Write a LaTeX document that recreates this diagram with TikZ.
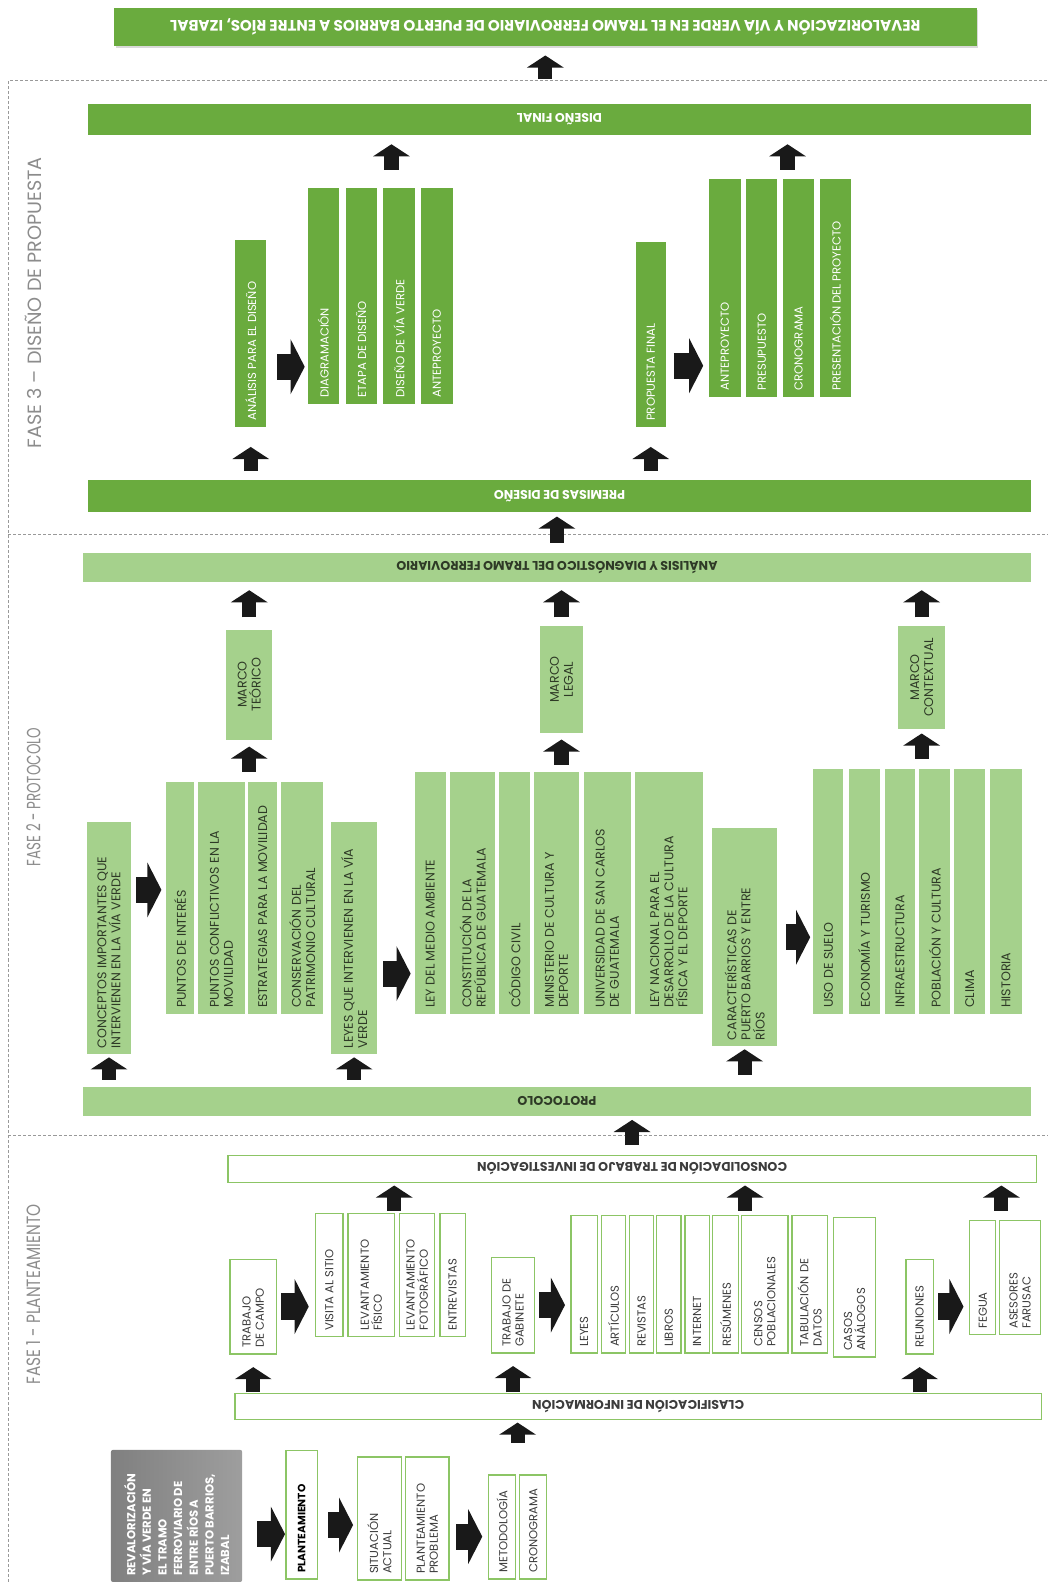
\documentclass[tikz,border=0pt]{standalone}
\usepackage{fontspec}
\usepackage{graphicx}
\setmainfont{Poppins}
\usetikzlibrary{arrows.meta,calc,shadows}
\definecolor{vtres}{HTML}{6AAB3E}
\definecolor{vdos}{HTML}{A5D18C}
\definecolor{vuno}{HTML}{8CC565}
\definecolor{tdos}{HTML}{2E3A26}
\definecolor{tuno}{HTML}{3C3C3C}
\newcommand\vtext[2]{\rotatebox{90}{\parbox{\dimexpr#1pt-12pt\relax}{\raggedright #2}}}
\newcommand\vmid[2]{\rotatebox{90}{\parbox{\dimexpr#1pt-12pt\relax}{\centering #2}}}
\newcommand\flip[1]{\rotatebox[origin=c]{180}{#1}}
\tikzset{
  caja/.style={inner sep=0pt, outer sep=0pt},
  f3/.style={caja, fill=vtres, text=white, font=\fontsize{11.5}{13}\selectfont},
  f2/.style={caja, fill=vdos, text=tdos, font=\fontsize{12.5}{14}\selectfont},
  f1/.style={caja, draw=vuno, line width=1.2pt, fill=white, text=tuno, font=\fontsize{11.5}{13}\selectfont},
  barra/.style={font=\bfseries\fontsize{12.5}{14}\selectfont},
  fase/.style={rotate=90, text=black!45, font=\fontsize{19}{20}\selectfont},
  marco/.style={draw=black!40, dash pattern=on 3pt off 2pt, line width=0.6pt},
  sube/.style={draw=black!90, line width=14pt, -{Triangle[width=36pt,length=12pt]}},
  avanza/.style={draw=black!90, line width=26pt, -{Triangle[width=54pt,length=14pt]}}
}
\begin{document}
\begin{tikzpicture}[x=1pt,y=-1pt]
\useasboundingbox (0,0) rectangle (1039,1568);
\draw[marco] (8,1568) -- (8,80) -- (1039,80);
\draw[marco] (8,530) -- (1039,530);
\draw[marco] (8,1125) -- (1039,1125);
\node[fase] (fase3) at (33,300) {FASE 3 – DISEÑO DE PROPUESTA};
\node[fase] (fase2) at (33,790) {\scalebox{0.7}[1]{FASE 2 - PROTOCOLO}};
\node[fase] (fase1) at (33,1283) {\scalebox{0.8}[1]{FASE 1 - PLANTEAMIENTO}};

% fase 3
\node[f3, barra, font=\bfseries\fontsize{15}{17}\selectfont, minimum width=855, minimum height=38,
  drop shadow={shadow xshift=1.5pt, shadow yshift=-2pt, opacity=0.3}] (title) at (540.5,27)
  {\flip{REVALORIZACIÓN Y VÍA VERDE EN EL TRAMO FERROVIARIO DE PUERTO BARRIOS A ENTRE RÍOS, IZABAL}};
\node[f3, barra, minimum width=935, minimum height=31] (dfin) at (554.5,118.5) {\flip{DISEÑO FINAL}};
\node[f3, minimum width=31, minimum height=185] (ana) at (248.5,330.5) {\vtext{185}{ANÁLISIS PARA EL DISEÑO}};
\node[f3, minimum width=31, minimum height=214] (diag) at (320.5,293) {\vtext{214}{DIAGRAMACIÓN}};
\node[f3, minimum width=31, minimum height=214] (etapa) at (358,293) {\vtext{214}{ETAPA DE DISEÑO}};
\node[f3, minimum width=31, minimum height=214] (viav) at (395.5,293) {\vtext{214}{DISEÑO DE VÍA VERDE}};
\node[f3, minimum width=31, minimum height=214] (antd) at (433,293) {\vtext{214}{ANTEPROYECTO}};
\node[f3, minimum width=30, minimum height=183] (prop) at (645,331.5) {\vtext{183}{PROPUESTA FINAL}};
\node[f3, minimum width=31, minimum height=216] (antp) at (718.5,285) {\vtext{216}{ANTEPROYECTO}};
\node[f3, minimum width=31, minimum height=216] (presu) at (755,285) {\vtext{216}{PRESUPUESTO}};
\node[f3, minimum width=31, minimum height=216] (crono) at (791.5,285) {\vtext{216}{CRONOGRAMA}};
\node[f3, minimum width=31, minimum height=216] (pres) at (828,285) {\vtext{216}{PRESENTACIÓN DEL PROYECTO}};
\node[f3, barra, minimum width=935, minimum height=31] (prem) at (554.5,491.5) {\flip{PREMISAS DE DISEÑO}};

\draw[sube, shorten <=25pt, shorten >=9pt] (title.south |- dfin.north) -- (title.south);
\coordinate (gd) at ($(etapa.north)!0.8!(viav.north)$);
\draw[sube, shorten <=18pt, shorten >=9pt] (gd) -- (gd |- dfin.south);
\coordinate (gp) at ($(presu.north)!0.7!(crono.north)$);
\draw[sube, shorten <=9pt, shorten >=9pt] (gp) -- (gp |- dfin.south);
\draw[sube, shorten <=9pt, shorten >=20pt] (ana |- prem.north) -- (ana.south);
\draw[sube, shorten <=9pt, shorten >=20pt] (prop |- prem.north) -- (prop.south);
\coordinate (r1) at ($(ana.east)+(0,33)$);
\draw[avanza, shorten <=11pt, shorten >=3pt] (r1) -- (r1 -| diag.west);
\coordinate (r2) at ($(prop.east)+(0,31)$);
\draw[avanza, shorten <=8pt, shorten >=6pt] (r2) -- (r2 -| antp.west);

% fase 2
\node[f2, barra, minimum width=940, minimum height=29] (adx) at (552,562.5) {\flip{ANÁLISIS Y DIAGNÓSTICO DEL TRAMO FERROVIARIO}};
\node[f2, minimum width=46, minimum height=109] (mteo) at (247,678.5) {\vmid{109}{MARCO\\TEÓRICO}};
\node[f2, minimum width=43, minimum height=107] (mleg) at (556.5,673.5) {\vmid{107}{MARCO\\LEGAL}};
\node[f2, minimum width=47, minimum height=103] (mcon) at (913.5,671.5) {\vmid{103}{MARCO\\CONTEXTUAL}};
\node[f2, minimum width=44, minimum height=230] (conc) at (108,930) {\vtext{230}{CONCEPTOS IMPORTANTES QUE\\INTERVIENEN EN LA VÍA VERDE}};
\node[f2, minimum width=27, minimum height=230] (pint) at (178.5,890) {\vtext{230}{PUNTOS DE INTERÉS}};
\node[f2, minimum width=47, minimum height=230] (pcon) at (219.5,890) {\vtext{230}{PUNTOS CONFLICTIVOS EN LA\\MOVILIDAD}};
\node[f2, minimum width=29, minimum height=230] (estr) at (260.5,890) {\vtext{230}{ESTRATEGIAS PARA LA MOVILIDAD}};
\node[f2, minimum width=41, minimum height=230] (cons) at (299.5,890) {\vtext{230}{CONSERVACIÓN DEL\\PATRIMONIO CULTURAL}};
\node[f2, minimum width=46, minimum height=230] (leyv) at (351,930) {\vtext{230}{LEYES QUE INTERVIENEN EN LA VÍA\\VERDE}};
\node[f2, minimum width=31, minimum height=240] (lma) at (426.5,885) {\vtext{240}{LEY DEL MEDIO AMBIENTE}};
\node[f2, minimum width=45, minimum height=240] (cpr) at (468.5,885) {\vtext{240}{CONSTITUCIÓN DE LA\\REPÚBLICA DE GUATEMALA}};
\node[f2, minimum width=30, minimum height=240] (cciv) at (510,885) {\vtext{240}{CÓDIGO CIVIL}};
\node[f2, minimum width=45, minimum height=240] (mcd) at (551.5,885) {\vtext{240}{MINISTERIO DE CULTURA Y\\DEPORTE}};
\node[f2, minimum width=46, minimum height=240] (usac) at (602,885) {\vtext{240}{UNIVERSIDAD DE SAN CARLOS\\DE GUATEMALA}};
\node[f2, minimum width=68, minimum height=240] (lnd) at (663,885) {\vtext{240}{LEY NACIONAL PARA EL\\DESARROLLO DE LA CULTURA\\FÍSICA Y EL DEPORTE}};
\node[f2, minimum width=64, minimum height=216] (carac) at (738,929) {\vtext{216}{CARACTERÍSTICAS DE\\PUERTO BARRIOS Y ENTRE\\RÍOS}};
\node[f2, minimum width=30, minimum height=243] (uso) at (821,883.5) {\vtext{243}{USO DE SUELO}};
\node[f2, minimum width=31, minimum height=243] (eco) at (856.5,883.5) {\vtext{243}{ECONOMÍA Y TURISMO}};
\node[f2, minimum width=30, minimum height=243] (infra) at (892,883.5) {\vtext{243}{INFRAESTRUCTURA}};
\node[f2, minimum width=31, minimum height=243] (pob) at (926.5,883.5) {\vtext{243}{POBLACIÓN Y CULTURA}};
\node[f2, minimum width=30, minimum height=243] (clima) at (961,883.5) {\vtext{243}{CLIMA}};
\node[f2, minimum width=32, minimum height=243] (hist) at (997,883.5) {\vtext{243}{HISTORIA}};
\node[f2, barra, minimum width=940, minimum height=29] (prot) at (552,1091.5) {\flip{PROTOCOLO}};

\draw[sube, shorten <=10pt, shorten >=5pt] (adx.north) -- (adx.north |- prem.south);
\draw[sube, shorten <=12pt, shorten >=8pt] (mteo.north) -- (mteo.north |- adx.south);
\draw[sube, shorten <=8pt, shorten >=8pt] (mleg.north) -- (mleg.north |- adx.south);
\draw[sube, shorten <=8pt, shorten >=8pt] (mcon.north) -- (mcon.north |- adx.south);
\draw[sube, shorten <=10pt, shorten >=7pt] (mteo.south |- pint.north) -- (mteo.south);
\draw[sube, shorten <=7pt, shorten >=6pt] (mleg.south |- lma.north) -- (mleg.south);
\draw[sube, shorten <=10pt, shorten >=4pt] (mcon.south |- uso.north) -- (mcon.south);
\coordinate (r3) at ($(conc.east)+(0,-48)$);
\draw[avanza, shorten <=5pt, shorten >=5pt] (r3) -- (r3 -| pint.west);
\coordinate (r4) at ($(leyv.east)+(0,35)$);
\draw[avanza, shorten <=6pt, shorten >=4pt] (r4) -- (r4 -| lma.west);
\draw[avanza, shorten <=9pt, shorten >=3pt] (carac.east) -- (carac.east -| uso.west);
\draw[sube, shorten <=7pt, shorten >=3pt] (conc |- prot.north) -- (conc.south);
\draw[sube, shorten <=7pt, shorten >=3pt] (leyv |- prot.north) -- (leyv.south);
\draw[sube, shorten <=12pt, shorten >=3pt] (carac |- prot.north) -- (carac.south);

% fase 1
\node[f1, barra, minimum width=801, minimum height=27] (cinv) at (626.5,1158.5) {\flip{CONSOLIDACIÓN DE TRABAJO DE INVESTIGACIÓN}};
\node[f1, minimum width=46, minimum height=94] (tcam) at (251,1295) {\vtext{94}{TRABAJO\\DE CAMPO}};
\node[f1, minimum width=27, minimum height=122] (vis) at (326.5,1264) {\vtext{122}{VISITA AL SITIO}};
\node[f1, minimum width=46, minimum height=122] (lfis) at (368,1264) {\vtext{122}{LEVANTAMIENTO\\FÍSICO}};
\node[f1, minimum width=35, minimum height=122] (lfot) at (413.5,1264) {\vtext{122}{LEVANTAMIENTO\\FOTOGRÁFICO}};
\node[f1, minimum width=25, minimum height=122] (entr) at (448.5,1264) {\vtext{122}{ENTREVISTAS}};
\node[f1, minimum width=43, minimum height=95] (tgab) at (508.5,1293.5) {\vtext{95}{TRABAJO DE\\GABINETE}};
\node[f1, minimum width=26, minimum height=136] (leyes) at (579,1273) {\vtext{136}{LEYES}};
\node[f1, minimum width=24, minimum height=136] (art) at (608,1273) {\vtext{136}{ARTÍCULOS}};
\node[f1, minimum width=24, minimum height=136] (rev) at (636,1273) {\vtext{136}{REVISTAS}};
\node[f1, minimum width=24, minimum height=136] (lib) at (663,1273) {\vtext{136}{LIBROS}};
\node[f1, minimum width=24, minimum height=136] (inet) at (691,1273) {\vtext{136}{INTERNET}};
\node[f1, minimum width=26, minimum height=136] (res) at (719,1273) {\vtext{136}{RESÚMENES}};
\node[f1, minimum width=46, minimum height=136] (cen) at (758,1273) {\vtext{136}{CENSOS\\POBLACIONALES}};
\node[f1, minimum width=35, minimum height=136] (tab) at (802.5,1273) {\vtext{136}{TABULACIÓN DE\\DATOS}};
\node[f1, minimum width=42, minimum height=138] (casos) at (847,1276) {\vtext{138}{CASOS\\ANÁLOGOS}};
\node[f1, minimum width=27, minimum height=94] (reun) at (911.5,1295) {\vtext{94}{REUNIONES}};
\node[f1, minimum width=26, minimum height=113] (fegua) at (974,1266.5) {\vtext{113}{FEGUA}};
\node[f1, minimum width=40, minimum height=113] (ases) at (1011,1266.5) {\vtext{113}{ASESORES\\FARUSAC}};
\node[f1, barra, minimum width=799, minimum height=26] (clas) at (632.5,1394) {\flip{CLASIFICACIÓN DE INFORMACIÓN}};
\node[caja, rounded corners=2pt, left color=black!50, right color=black!38, text=white,
  font=\bfseries\fontsize{11.5}{15.5}\selectfont, minimum width=130, minimum height=131] (revb) at (175,1502.5)
  {\vtext{131}{REVALORIZACIÓN\\Y VÍA VERDE EN\\EL TRAMO\\FERROVIARIO DE\\ENTRE RÍOS A\\PUERTO BARRIOS,\\IZABAL}};
\node[f1, text=black, font=\bfseries\fontsize{10.5}{12}\selectfont, minimum width=31, minimum height=127] (plan) at (299,1501.5) {\vtext{127}{PLANTEAMIENTO}};
\node[f1, minimum width=44, minimum height=122] (sit) at (376,1505) {\vtext{122}{SITUACIÓN\\ACTUAL}};
\node[f1, minimum width=43, minimum height=122] (ppro) at (423.5,1505) {\vtext{122}{PLANTEAMIENTO\\PROBLEMA}};
\node[f1, minimum width=27, minimum height=103] (met) at (497.5,1513.5) {\vtext{103}{METODOLOGÍA}};
\node[f1, minimum width=27, minimum height=103] (cro) at (528.5,1513.5) {\vtext{103}{CRONOGRAMA}};

\draw[sube, shorten <=10pt, shorten >=4pt] (cinv.north) -- (cinv.north |- prot.south);
\coordinate (gc) at ($(lfis.north)!0.5!(lfot.north)$);
\draw[sube, shorten <=3pt, shorten >=3pt] (gc) -- (gc |- cinv.south);
\coordinate (gg) at ($(res.north)!0.5!(cen.north)$);
\draw[sube, shorten <=5pt, shorten >=3pt] (gg) -- (gg |- cinv.south);
\coordinate (gf) at ($(fegua.north)!0.5!(ases.north)$);
\draw[sube, shorten <=10pt, shorten >=3pt] (gf) -- (gf |- cinv.south);
\draw[avanza, shorten <=5pt, shorten >=7pt] (tcam.east) -- (tcam.east -| vis.west);
\draw[avanza, shorten <=4pt, shorten >=6pt] (tgab.east) -- (tgab.east -| leyes.west);
\draw[avanza, shorten <=5pt, shorten >=6pt] (reun.east) -- (reun.east -| fegua.west);
\draw[sube, shorten <=1pt, shorten >=13pt] (tcam |- clas.north) -- (tcam.south);
\draw[sube, shorten <=1pt, shorten >=13pt] (tgab |- clas.north) -- (tgab.south);
\draw[sube, shorten <=1pt, shorten >=13pt] (reun |- clas.north) -- (reun.south);
\coordinate (gm) at ($(met.north)!0.5!(cro.north)$);
\draw[sube, shorten <=32pt, shorten >=3pt] (gm) -- (gm |- clas.south);
\coordinate (r6) at ($(revb.east)+(0,18)$);
\draw[avanza, shorten <=15pt, shorten >=1pt] (r6) -- (r6 -| plan.west);
\coordinate (r7) at ($(plan.east)+(0,10)$);
\draw[avanza, shorten <=11pt, shorten >=4pt] (r7) -- (r7 -| sit.west);
\coordinate (r8) at ($(ppro.east)+(0,18)$);
\draw[avanza, shorten <=7pt, shorten >=6pt] (r8) -- (r8 -| met.west);
\end{tikzpicture}
\end{document}
